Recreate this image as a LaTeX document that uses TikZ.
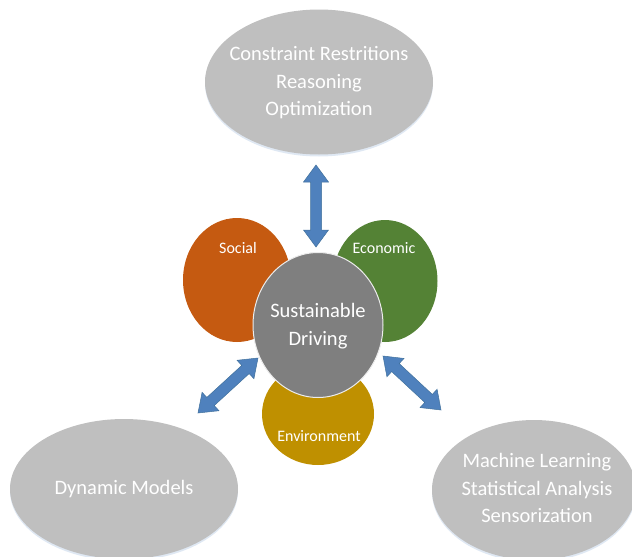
\documentclass[tikz,border=0pt]{standalone}
\usepackage{fontspec}
\setmainfont{Carlito}
\usetikzlibrary{shapes.geometric,calc,shadows}
\definecolor{grayell}{HTML}{BFBFBF}
\definecolor{centgray}{HTML}{7F7F7F}
\definecolor{socialc}{HTML}{C55A11}
\definecolor{econc}{HTML}{548235}
\definecolor{envc}{HTML}{BF9000}
\definecolor{arrfill}{HTML}{4F81BD}
\definecolor{arrdraw}{HTML}{41719C}
\definecolor{glow}{HTML}{D2DEEE}
\tikzset{
  bigell/.style={ellipse, fill=grayell, inner sep=0pt,
    drop shadow={shadow xshift=0pt, shadow yshift=-2pt, fill=glow, opacity=0.7}},
  biglbl/.style={text=white, align=center, inner sep=0pt,
    font=\fontsize{20.5}{27.5}\selectfont},
  petal/.style={ellipse, inner sep=0pt},
  petallbl/.style={text=white, inner sep=0pt, font=\fontsize{16}{18}\selectfont},
  hub/.style={ellipse, fill=centgray, draw=white!85!gray, line width=1pt, inner sep=0pt},
  hublbl/.style={text=white, align=center, inner sep=0pt, font=\fontsize{20.5}{28}\selectfont},
  arr/.style={fill=arrfill, draw=arrdraw, line width=0.5pt, line join=miter},
}
\newcommand{\biarrow}[2]{%
  \coordinate (pa) at ($(#1)!17pt!(#2)$);
  \coordinate (pb) at ($(#2)!17pt!(#1)$);
  \draw[arr] (#1) -- ($(pa)!12.5pt!90:(#2)$) -- ($(pa)!5.5pt!90:(#2)$)
    -- ($(pb)!5.5pt!-90:(#1)$) -- ($(pb)!12.5pt!-90:(#1)$) -- (#2)
    -- ($(pb)!12.5pt!90:(#1)$) -- ($(pb)!5.5pt!90:(#1)$)
    -- ($(pa)!5.5pt!-90:(#2)$) -- ($(pa)!12.5pt!-90:(#2)$) -- cycle;}
\begin{document}
\begin{tikzpicture}[x=1pt,y=-1pt]
\useasboundingbox (0,0) rectangle (632,557);
% outer ellipses
\node[bigell, minimum width=228pt, minimum height=145pt] (top) at (319,82) {};
\node[biglbl] (topt) at (319,83) {Constraint Restritions\\Reasoning\\Optimization};
\node[bigell, minimum width=228pt, minimum height=140pt] (dyn) at (124,489) {};
\node[biglbl] (dynt) at (124,489) {Dynamic Models};
\node[bigell, minimum width=204pt, minimum height=140pt] (ml) at (534,490) {};
\node[biglbl] (mlt) at (537,488) {Machine Learning\\Statistical Analysis\\Sensorization};
% petals
\node[petal, fill=socialc, minimum width=108pt, minimum height=124pt] (soc) at (237,280) {};
\node[petal, fill=econc, minimum width=105pt, minimum height=122pt] (eco) at (385,281) {};
\node[petal, fill=envc, minimum width=112pt, minimum height=102pt] (env) at (318,414) {};
\node[petallbl] (soct) at (238,248) {Social};
\node[petallbl] (ecot) at (384,248) {Economic};
\node[petallbl] (envt) at (319,436) {Environment};
% hub
\node[hub, minimum width=130pt, minimum height=145pt] (hub) at (318,325) {};
\node[hublbl] (hubt) at (318,326) {Sustainable\\Driving};
% arrows
\coordinate (a1) at (316,165);
\coordinate (a2) at (316,247);
\coordinate (b1) at (258,358);
\coordinate (b2) at (198,413);
\coordinate (c1) at (383,356);
\coordinate (c2) at (441,410);
\biarrow{a1}{a2}
\biarrow{b1}{b2}
\biarrow{c1}{c2}
\end{tikzpicture}
\end{document}
